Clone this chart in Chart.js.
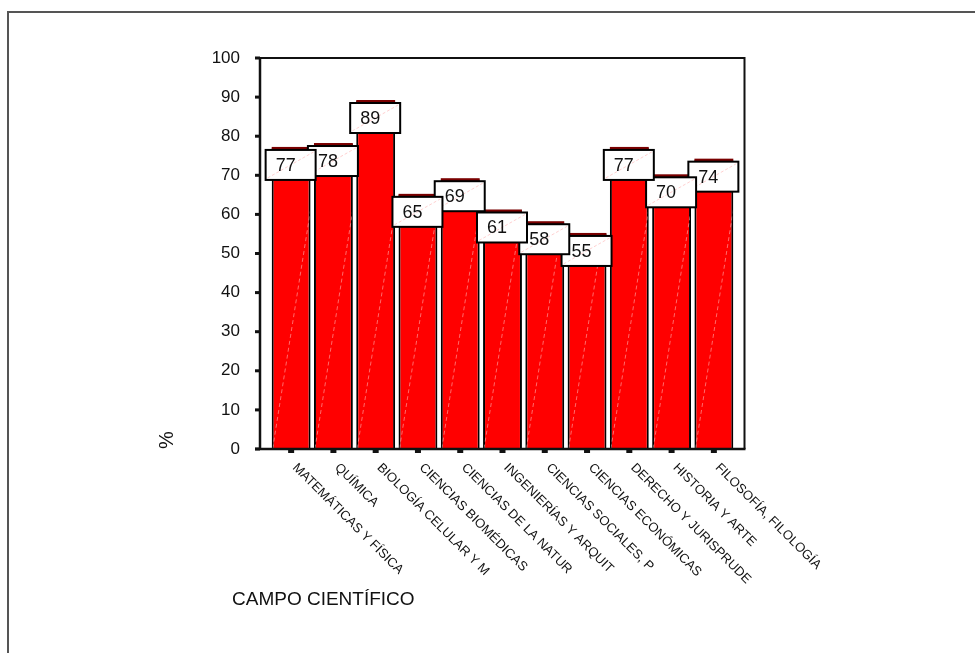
<!DOCTYPE html>
<html>
<head>
<meta charset="utf-8">
<script src="https://cdn.jsdelivr.net/npm/chart.js@4.4.0/dist/chart.umd.min.js"></script>
<style>
  body { margin: 0; background: #fff; }
  canvas { display: block; }
</style>
</head>
<body>
<canvas id="chart" width="975" height="653"></canvas>
<script>
const categories = [
  "MATEMÁTICAS Y FÍSICA", "QUÍMICA", "BIOLOGÍA CELULAR Y M", "CIENCIAS BIOMÉDICAS",
  "CIENCIAS DE LA NATUR", "INGENIERÍAS Y ARQUIT", "CIENCIAS SOCIALES, P",
  "CIENCIAS ECONÓMICAS", "DERECHO Y JURISPRUDE", "HISTORIA Y ARTE", "FILOSOFÍA, FILOLOGÍA"
];
const percentages = [77, 78, 89, 65, 69, 61, 58, 55, 77, 70, 74];
const yTicks = [0, 10, 20, 30, 40, 50, 60, 70, 80, 90, 100];
const xTitle = "CAMPO CIENTÍFICO";
const yTitle = "%";

const FONT = "'Liberation Sans', Arial, Helvetica, sans-serif";

// frame, axes, bar caps, value boxes and labels drawn on top of the chart
const decorations = {
  id: "decorations",
  beforeDraw(chart) {
    const ctx = chart.ctx;
    ctx.save();
    ctx.fillStyle = "#fff";
    ctx.fillRect(0, 0, chart.width, chart.height);
    // outer frame
    ctx.strokeStyle = "#555";
    ctx.lineWidth = 2;
    ctx.beginPath();
    ctx.moveTo(8, 653);
    ctx.lineTo(8, 12);
    ctx.lineTo(975, 12);
    ctx.stroke();
    ctx.restore();
  },
  afterDatasetsDraw(chart) {
    const ctx = chart.ctx;
    const x = chart.scales.x;
    const y = chart.scales.y;
    const meta = chart.getDatasetMeta(0);
    const left = 260, right = 744.5, top = y.getPixelForValue(100), bottom = y.getPixelForValue(0);
    ctx.save();

    // bar caps and hatch lines
    meta.data.forEach((bar) => {
      const w = bar.width;
      const bl = bar.x - w / 2;
      ctx.fillStyle = "#7a0000";
      ctx.fillRect(bl, bar.y - 1, w, 3);
      ctx.save();
      ctx.beginPath();
      ctx.rect(bl + 1, bar.y + 2, w - 2, bar.base - bar.y - 2);
      ctx.clip();
      ctx.strokeStyle = "rgba(255,190,190,0.8)";
      ctx.lineWidth = 0.7;
      ctx.setLineDash([4, 3]);
      ctx.beginPath();
      ctx.moveTo(bl + 1, bar.base);
      ctx.lineTo(bl + 1 + (bar.base - bar.y) / 6.3, bar.y);
      ctx.stroke();
      ctx.restore();
    });

    // plot frame
    ctx.strokeStyle = "#111";
    ctx.lineWidth = 2;
    ctx.beginPath();
    ctx.moveTo(left, top);
    ctx.lineTo(right, top);
    ctx.lineTo(right, bottom);
    ctx.stroke();
    ctx.lineWidth = 2.5;
    ctx.beginPath();
    ctx.moveTo(left, top - 1);
    ctx.lineTo(left, bottom);
    ctx.moveTo(255, bottom);
    ctx.lineTo(right + 1, bottom);
    ctx.stroke();

    // y tick marks
    ctx.fillStyle = "#111";
    yTicks.forEach((v) => {
      const py = y.getPixelForValue(v);
      ctx.fillRect(255, py - 1.5, 5, 3);
    });
    // x tick marks
    categories.forEach((c, i) => {
      const px = x.getPixelForValue(i);
      ctx.fillRect(px - 3, bottom, 6, 4);
    });

    // value boxes, last first so earlier ones sit on top
    ctx.font = "18px " + FONT;
    ctx.textBaseline = "middle";
    ctx.textAlign = "left";
    for (let i = meta.data.length - 1; i >= 0; i--) {
      const bar = meta.data[i];
      const bw = 50, bh = 30;
      const bx = bar.x - bw / 2 - 0.5;
      const by = bar.y + 2;
      ctx.fillStyle = "#fff";
      ctx.fillRect(bx, by, bw, bh);
      ctx.strokeStyle = "rgba(255,170,170,0.8)";
      ctx.lineWidth = 0.7;
      ctx.setLineDash([3, 2]);
      ctx.beginPath();
      ctx.moveTo(bx + 2, by + bh - 2);
      ctx.lineTo(bx + bw - 2, by + 2);
      ctx.stroke();
      ctx.setLineDash([]);
      ctx.strokeStyle = "#000";
      ctx.lineWidth = 2;
      ctx.strokeRect(bx, by, bw, bh);
      ctx.fillStyle = "#111";
      ctx.fillText(String(percentages[i]), bx + 10, by + bh / 2 + 1);
    }

    // rotated category labels
    ctx.font = "13px " + FONT;
    ctx.textBaseline = "top";
    categories.forEach((c, i) => {
      const px = x.getPixelForValue(i);
      ctx.save();
      ctx.translate(px + 8, bottom + 12);
      ctx.rotate(Math.PI / 4);
      ctx.fillText(c, 0, 0);
      ctx.restore();
    });

    // axis titles
    ctx.font = "19px " + FONT;
    ctx.textBaseline = "alphabetic";
    ctx.fillText(xTitle, 232, 605);
    ctx.save();
    ctx.translate(173, 440);
    ctx.rotate(-Math.PI / 2);
    ctx.textAlign = "center";
    ctx.font = "20px " + FONT;
    ctx.fillText(yTitle, 0, 0);
    ctx.restore();

    ctx.restore();
  }
};

new Chart(document.getElementById("chart"), {
  type: "bar",
  data: {
    labels: categories,
    datasets: [{
      label: "%",
      data: percentages,
      backgroundColor: "#ff0000",
      borderColor: "#000",
      borderWidth: 2,
      borderSkipped: "bottom",
      barPercentage: 0.92,
      categoryPercentage: 1
    }]
  },
  options: {
    responsive: false,
    animation: false,
    devicePixelRatio: 1,
    layout: { padding: { left: 0, top: 58, right: 240, bottom: 204 } },
    plugins: {
      legend: { display: false },
      tooltip: { enabled: false }
    },
    scales: {
      x: {
        display: false,
        offset: true
      },
      y: {
        min: 0,
        max: 100,
        afterFit(scale) { scale.width = 270; },
        border: { display: false },
        grid: { drawOnChartArea: false, drawTicks: false },
        ticks: {
          stepSize: 10,
          padding: 30,
          color: "#111",
          font: { family: FONT, size: 17 }
        }
      }
    }
  },
  plugins: [decorations]
});
</script>
</body>
</html>
